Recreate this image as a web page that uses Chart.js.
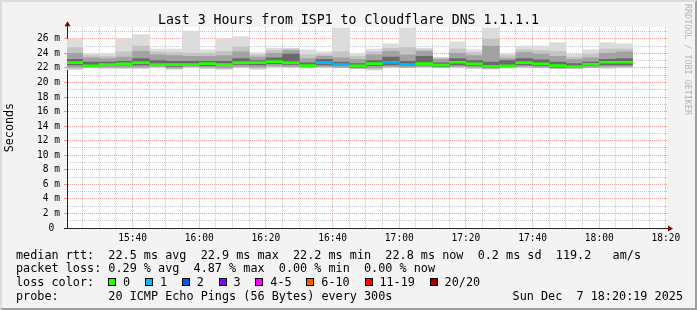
<!DOCTYPE html>
<html>
<head>
<meta charset="utf-8">
<script src="https://cdn.jsdelivr.net/npm/chart.js@4/dist/chart.umd.min.js"></script>
<style>
html,body{margin:0;padding:0;background:#f3f3f3;}
#wrap{position:relative;width:697px;height:310px;overflow:hidden;font-family:"DejaVu Sans Mono",monospace;color:#000;}
#c{position:absolute;left:0;top:0;}
#frame{position:absolute;left:0;top:0;width:697px;height:310px;box-sizing:border-box;border-top:2px solid #dcdcdc;border-left:2px solid #dcdcdc;border-right:2px solid #9e9e9e;border-bottom:2px solid #9e9e9e;pointer-events:none;}
.ln{position:absolute;left:16px;white-space:pre;font-size:11.8px;line-height:14px;height:14px;}
#lossline{display:flex;align-items:center;}
#lossline .lab{display:inline-block;width:92.3px;}
.bx{display:inline-block;width:6px;height:6px;border:1px solid #000;margin-right:6.8px;}
.lt{margin-right:14.9px;}
#date{position:absolute;top:288.6px;right:14px;white-space:pre;font-size:11.8px;line-height:14px;}
#wm{position:absolute;left:682px;top:4px;writing-mode:vertical-rl;font-size:8.4px;line-height:11px;color:#b4b4b4;white-space:pre;}
</style>
</head>
<body>
<div id="wrap">
<canvas id="c" width="697" height="310"></canvas>
<div id="frame"></div>
<div class="ln" id="l1" style="top:248.2px"></div>
<div class="ln" id="l2" style="top:261.2px"></div>
<div class="ln" id="lossline" style="top:275.2px"></div>
<div class="ln" id="l4" style="top:288.6px"></div>
<div id="date"></div>
<div id="wm">RRDTOOL / TOBI OETIKER</div>
</div>
<script>
// ---------- data ----------
const chartTitle = 'Last 3 Hours from ISP1 to Cloudflare DNS 1.1.1.1';
const windowStart = '15:20:19';
const windowEnd = '18:20:19';
const binMinutes = 5;
const binTimes = ['15:20','15:25','15:30','15:35','15:40','15:45','15:50','15:55','16:00','16:05','16:10','16:15','16:20','16:25','16:30','16:35','16:40','16:45','16:50','16:55','17:00','17:05','17:10','17:15','17:20','17:25','17:30','17:35','17:40','17:45','17:50','17:55','18:00','18:05'];
const medianMs = [22.73,22.28,22.46,22.55,22.73,22.46,22.46,22.46,22.6,22.46,22.73,22.73,22.87,22.73,22.32,22.73,22.46,22.28,22.6,22.78,22.46,22.6,22.4,22.78,22.55,22.23,22.3,22.73,22.55,22.32,22.18,22.5,22.78,22.78];
const lossCount = [0,0,0,0,0,0,0,0,0,0,0,0,0,0,0,1,1,0,0,1,1,0,0,0,0,0,0,0,0,0,0,0,0,0];
const smokeMin  = [21.75,22.0,21.9,21.9,21.9,22.0,21.8,22.0,21.9,21.8,22.0,21.8,22.0,22.0,22.0,22.0,22.0,21.9,21.7,22.0,22.0,22.0,22.0,22.0,21.9,21.8,22.0,22.0,22.0,21.9,21.9,22.0,21.9,22.0];
const smokeLo2  = [21.9,22.05,22.0,22.0,22.0,22.1,21.9,22.1,22.0,21.9,22.1,21.95,22.15,22.1,22.05,22.1,22.05,21.95,21.85,22.1,22.05,22.1,22.05,22.1,22.0,21.9,22.05,22.1,22.05,21.95,21.95,22.05,22.05,22.1];
const smokeLo   = [22.1,22.1,22.1,22.1,22.1,22.2,22.0,22.2,22.1,22.0,22.2,22.1,22.3,22.2,22.1,22.2,22.1,22.0,22.0,22.2,22.1,22.2,22.1,22.2,22.1,22.0,22.1,22.2,22.1,22.0,22.0,22.1,22.2,22.2];
const smokeInLo = [22.4,22.2,22.3,22.4,22.4,22.3,22.2,22.3,22.3,22.3,22.5,22.4,22.6,22.5,22.2,22.4,22.3,22.1,22.3,22.4,22.3,22.4,22.2,22.4,22.3,22.1,22.2,22.4,22.3,22.1,22.1,22.3,22.4,22.4];
const smokeInHi = [23.2,22.8,22.8,22.9,23.3,23.0,22.9,22.9,22.9,22.9,23.3,23.0,23.4,23.9,22.7,23.2,22.8,22.6,23.0,23.5,22.9,23.6,22.7,23.3,23.0,22.8,23.0,23.3,23.1,22.8,22.6,22.8,23.2,23.3];
const smokeHi   = [24.0,23.4,23.3,23.5,24.3,23.8,23.7,23.6,23.6,23.7,24.2,23.5,24.0,24.4,23.3,23.6,23.4,23.2,23.8,24.3,23.8,24.3,23.2,24.0,23.7,25.0,23.3,24.1,23.9,23.6,23.2,23.4,24.0,24.2];
const smokeHi2  = [24.8,23.7,23.6,24.2,25.0,24.2,24.1,24.0,24.0,24.3,24.9,23.8,24.4,24.6,23.8,23.9,24.2,23.6,24.2,24.7,24.8,24.5,23.35,24.6,24.1,26.0,23.7,24.5,24.4,24.3,23.5,23.9,24.6,24.6];
const smokeMax  = [25.95,24.0,24.0,26.0,26.6,24.6,24.6,27.05,24.5,26.0,26.3,24.1,24.7,24.7,24.5,24.2,27.5,24.0,24.6,25.3,27.5,24.7,23.47,25.6,24.5,27.5,24.0,25.0,25.0,25.5,23.9,24.5,25.5,25.3];
const xTickLabels = ['15:40','16:00','16:20','16:40','17:00','17:20','17:40','18:00','18:20'];
const yTickLabels = ['0 ','2 m','4 m','6 m','8 m','10 m','12 m','14 m','16 m','18 m','20 m','22 m','24 m','26 m'];
const yMaxMs = 27.6;
const lossLabels = ['0','1','2','3','4-5','6-10','11-19','20/20'];
const lossColors = ['#26ff00','#00b8ff','#0059ff','#7e00ff','#ff00ff','#ff5500','#ff0000','#a00000'];
const lossUpper  = [0,1,2,3,5,10,19,20];
const statLines = [
  'median rtt:  22.5 ms avg  22.9 ms max  22.2 ms min  22.8 ms now  0.2 ms sd  119.2   am/s',
  'packet loss: 0.29 % avg  4.87 % max  0.00 % min  0.00 % now',
  'probe:       20 ICMP Echo Pings (56 Bytes) every 300s'
];
const stampText = 'Sun Dec  7 18:20:19 2025';

// ---------- styles ----------
const FONT = 'DejaVu Sans Mono';
const MINOR = 'rgba(143,143,143,0.5)';
const MAJOR = 'rgba(222,79,79,0.55)';
const AXIS = '#222222';
const ARROW = '#800000';
const MED_HALF = 0.14;
const smokeColors = ['#dcdcdc','#c4c4c4','#a2a2a2','#6a6a6a'];

// ---------- helpers ----------
const toMin = s => { const p = s.split(':').map(Number); return p[0]*60 + p[1] + (p[2]||0)/60; };
const xMin = toMin(windowStart), xMax = toMin(windowEnd);
const centers = binTimes.map(t => toMin(t) + binMinutes/2);
const lossColorFor = n => lossColors[lossUpper.findIndex(u => n <= u)];
const labeledX = {}; xTickLabels.forEach(l => labeledX[toMin(l)] = l);

function band(lo, hi, color, order){
  return {type:'bar', order, data: centers.map((x,i)=>({x, y:[lo[i], hi[i]]})),
    backgroundColor: color, borderWidth:0, grouped:false, barPercentage:1, categoryPercentage:1};
}
const datasets = [
  {type:'bar', order:0, data: centers.map((x,i)=>({x, y:[medianMs[i]-MED_HALF, medianMs[i]+MED_HALF]})),
   backgroundColor: lossCount.map(lossColorFor), borderWidth:0, grouped:false, barPercentage:1, categoryPercentage:1},
  band(smokeInLo, smokeInHi, smokeColors[3], 1),
  band(smokeLo, smokeHi, smokeColors[2], 2),
  band(smokeLo2, smokeHi2, smokeColors[1], 3),
  band(smokeMin, smokeMax, smokeColors[0], 4)
];

const decor = {
  id:'decor',
  beforeDraw(chart){
    const {ctx, chartArea:a} = chart;
    ctx.save(); ctx.fillStyle = '#ffffff';
    ctx.fillRect(a.left, a.top, a.right - a.left, a.bottom - a.top);
    ctx.restore();
  },
  afterDraw(chart){
    const {ctx, chartArea:a} = chart;
    const x0 = Math.round(a.left), y0 = Math.round(a.bottom);
    ctx.save();
    ctx.strokeStyle = AXIS; ctx.lineWidth = 1;
    ctx.beginPath();
    ctx.moveTo(x0 + 0.5, a.top); ctx.lineTo(x0 + 0.5, a.top - 3);
    ctx.moveTo(a.right, y0 + 0.5); ctx.lineTo(a.right + 3, y0 + 0.5);
    ctx.stroke();
    ctx.fillStyle = ARROW;
    ctx.beginPath();
    ctx.moveTo(x0 + 0.5, a.top - 6); ctx.lineTo(x0 - 2.5, a.top - 1); ctx.lineTo(x0 + 3.5, a.top - 1); ctx.closePath(); ctx.fill();
    ctx.beginPath();
    ctx.moveTo(a.right + 6, y0 + 0.5); ctx.lineTo(a.right + 1, y0 - 2.5); ctx.lineTo(a.right + 1, y0 + 3.5); ctx.closePath(); ctx.fill();
    ctx.restore();
  }
};

const xTicks = []; for (let v = Math.ceil(xMin/binMinutes)*binMinutes; v <= xMax; v += binMinutes) xTicks.push(v);
const yTicks = []; for (let v = 0; v <= Math.floor(yMaxMs); v++) yTicks.push(v);

new Chart(document.getElementById('c'), {
  data: { datasets },
  plugins: [decor],
  options: {
    responsive:false, animation:false, devicePixelRatio:1,
    layout: { padding: { left:0, right:0, top:0, bottom:62 } },
    plugins: {
      legend: { display:false }, tooltip: { enabled:false },
      title: { display:true, text: chartTitle, color:'#000', font:{family:FONT, size:13.2, weight:'normal', lineHeight:1}, padding:{top:13.7, bottom:0.3} }
    },
    scales: {
      x: {
        type:'linear', min:xMin, max:xMax, offset:false,
        afterBuildTicks: s => { s.ticks = xTicks.map(value => ({value})); },
        afterFit: s => { s.height = 20; },
        grid: { offset:false, drawTicks:false, color: c => (c.tick && labeledX[c.tick.value]) ? MAJOR : MINOR, lineWidth:1 },
        border: { display:true, color:AXIS, width:1, dash:[1,1] },
        ticks: { autoSkip:false, maxRotation:0, padding:5, color:'#000', font:{family:FONT, size:9.6},
                 callback: v => labeledX[v] || '' }
      },
      y: {
        type:'linear', min:0, max:yMaxMs,
        afterBuildTicks: s => { s.ticks = yTicks.map(value => ({value})); },
        afterFit: s => { s.width = 67; },
        grid: { drawTicks:true, tickLength:3,
                color: c => (c.tick && c.tick.value === 0) ? 'rgba(0,0,0,0)' : (c.tick && c.tick.value % 2 === 0 ? MAJOR : MINOR),
                tickColor: c => (c.tick && c.tick.value === 0) ? AXIS : (c.tick && c.tick.value % 2 === 0 ? MAJOR : 'rgba(0,0,0,0)') },
        border: { display:true, color:AXIS, width:1, dash:[1,1] },
        ticks: { autoSkip:false, padding:4, color:'#000', font:{family:FONT, size:9.6},
                 callback: v => (v % 2 === 0 ? yTickLabels[v/2] : '') },
        title: { display:true, text:'Seconds', color:'#000', font:{family:FONT, size:11.7, lineHeight:1.2}, padding:{top:2.5, bottom:0} }
      },
      yRight: {
        type:'linear', position:'right', min:0, max:yMaxMs, display:true,
        afterFit: s => { s.width = 30; },
        grid: { drawOnChartArea:false, drawTicks:false },
        border: { display:false },
        ticks: { display:false }
      }
    }
  }
});

// ---------- legend text ----------
document.getElementById('l1').textContent = statLines[0];
document.getElementById('l2').textContent = statLines[1];
document.getElementById('l4').textContent = statLines[2];
document.getElementById('date').textContent = stampText;
const ll = document.getElementById('lossline');
const lab = document.createElement('span'); lab.className = 'lab'; lab.textContent = 'loss color:'; ll.appendChild(lab);
lossLabels.forEach((t,i) => {
  const b = document.createElement('span'); b.className = 'bx'; b.style.background = lossColors[i]; ll.appendChild(b);
  const s = document.createElement('span'); s.className = 'lt'; s.textContent = t; ll.appendChild(s);
});
</script>
</body>
</html>
